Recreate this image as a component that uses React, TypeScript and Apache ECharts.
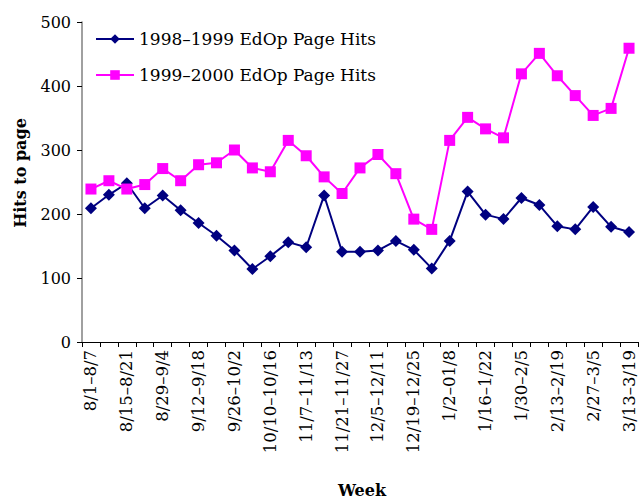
import React, { useEffect, useRef } from "react";
import * as echarts from "echarts";

const weeks: string[] = [
  "8/1–8/7", "8/8–8/14", "8/15–8/21", "8/22–8/28", "8/29–9/4", "9/5–9/11",
  "9/12–9/18", "9/19–9/25", "9/26–10/2", "10/3–10/9", "10/10–10/16", "10/24–10/30",
  "11/7–11/13", "11/14–11/20", "11/21–11/27", "11/28–12/4", "12/5–12/11", "12/12–12/18",
  "12/19–12/25", "12/26–1/1", "1/2–01/8", "1/9–1/15", "1/16–1/22", "1/23–1/29",
  "1/30–2/5", "2/6–2/12", "2/13–2/19", "2/20–2/26", "2/27–3/5", "3/6–3/12", "3/13–3/19",
];

const hits9899: number[] = [
  209, 230, 248, 209, 229, 206, 186, 166, 143, 114, 134, 156, 148, 229, 141, 141,
  143, 158, 144, 115, 158, 235, 199, 192, 225, 214, 181, 176, 211, 180, 172,
];

const hits9900: number[] = [
  239, 252, 239, 246, 271, 252, 277, 280, 300, 272, 266, 315, 291, 258, 232, 272,
  293, 263, 192, 176, 315, 351, 333, 319, 419, 451, 416, 385, 354, 365, 459,
];

const seriesNames: string[] = ["1998–1999 EdOp Page Hits", "1999–2000 EdOp Page Hits"];
const yTitle = "Hits to page";
const xTitle = "Week";

const FONT = "'DejaVu Serif', serif";

export default function App() {
  const ref = useRef<HTMLDivElement>(null);
  useEffect(() => {
    document.body.style.margin = "0";
    if (!ref.current) return;
    const chart = echarts.init(ref.current, null, { renderer: "svg" });
    chart.setOption({
      animation: false,
      backgroundColor: "#ffffff",
      grid: { left: 82, top: 22, right: 1, bottom: 157, containLabel: false },
      legend: {
        orient: "vertical",
        left: 95,
        top: 29,
        padding: 0,
        itemWidth: 38,
        itemHeight: 12,
        itemGap: 16,
        textStyle: { fontFamily: FONT, fontSize: 17, color: "#000", lineHeight: 20 },
        data: seriesNames,
      },
      xAxis: {
        type: "category",
        data: weeks,
        boundaryGap: true,
        axisLine: { lineStyle: { color: "#000", width: 1 } },
        axisTick: { show: true, interval: 0, length: 5, lineStyle: { color: "#000" } },
        axisLabel: {
          interval: 1,
          rotate: 90,
          margin: 8,
          fontFamily: FONT,
          fontSize: 16.5,
          color: "#000",
        },
        splitLine: { show: false },
      },
      yAxis: {
        type: "value",
        min: 0,
        max: 500,
        interval: 100,
        axisLine: { show: true, lineStyle: { color: "#808080", width: 1.5 } },
        axisTick: { show: true, length: 5, lineStyle: { color: "#000" } },
        axisLabel: { margin: 11, fontFamily: FONT, fontSize: 16, color: "#000" },
        splitLine: { show: false },
      },
      graphic: [
        {
          type: "text",
          x: 20,
          y: 173,
          rotation: Math.PI / 2,
          style: {
            text: yTitle,
            fontFamily: FONT,
            fontSize: 16,
            fontWeight: "bold",
            fill: "#000",
            align: "center",
            verticalAlign: "middle",
          },
        },
        {
          type: "text",
          x: 362,
          y: 490,
          style: {
            text: xTitle,
            fontFamily: FONT,
            fontSize: 16,
            fontWeight: "bold",
            fill: "#000",
            align: "center",
            verticalAlign: "middle",
          },
        },
      ],
      series: [
        {
          name: seriesNames[0],
          type: "line",
          data: hits9899,
          symbol: "diamond",
          symbolSize: 12,
          showAllSymbol: true,
          lineStyle: { color: "#000080", width: 2 },
          itemStyle: { color: "#000080" },
        },
        {
          name: seriesNames[1],
          type: "line",
          data: hits9900,
          symbol: "rect",
          symbolSize: 11,
          showAllSymbol: true,
          lineStyle: { color: "#ff00ff", width: 2 },
          itemStyle: { color: "#ff00ff" },
        },
      ],
    });
    return () => chart.dispose();
  }, []);
  return <div ref={ref} style={{ width: 639, height: 499 }} />;
}
